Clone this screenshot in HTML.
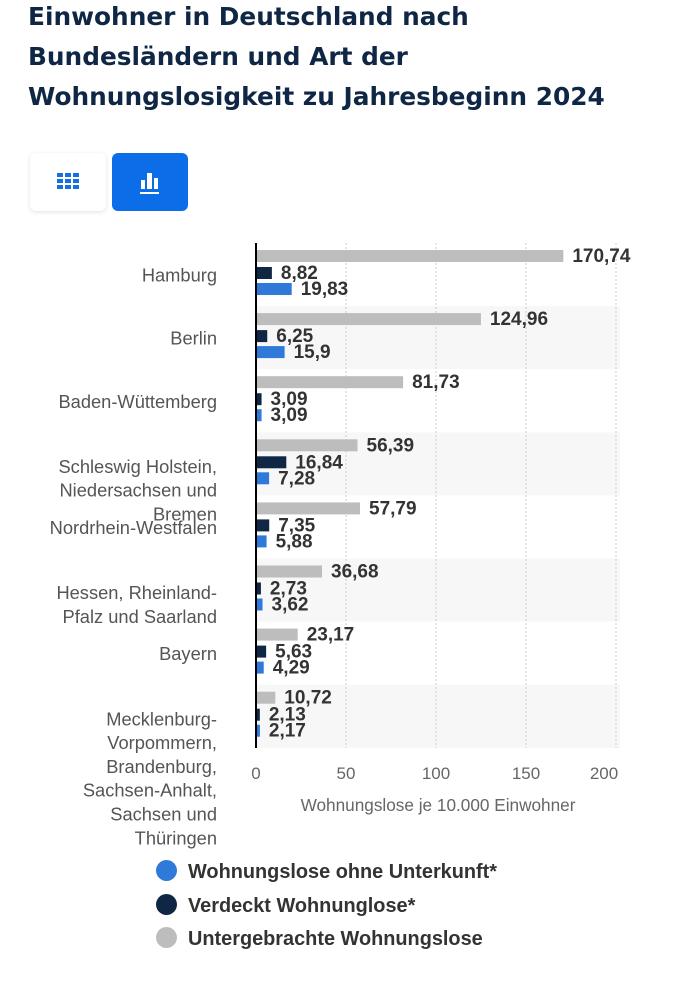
<!DOCTYPE html>
<html><head><meta charset="utf-8"><style>
body{margin:0;width:679px;height:1000px;background:#fff;font-family:"Liberation Sans",sans-serif;overflow:hidden;position:relative}
h1{position:absolute;left:28px;top:-3px;margin:0;font-family:"DejaVu Sans",sans-serif;font-size:24.8px;line-height:40px;color:#0f2744;font-weight:bold;white-space:nowrap}
.btn{position:absolute;top:153px;width:76px;height:58px;border-radius:6px}
.legend{position:absolute;left:156px;font-size:19.9px;font-weight:bold;color:#333}
.legend span{display:inline-block;width:21px;height:21px;border-radius:50%;vertical-align:middle;margin-right:11px;position:relative;top:-2px}
</style></head><body>
<h1>Einwohner in Deutschland nach<br>Bundesländern und Art der<br>Wohnungslosigkeit zu Jahresbeginn 2024</h1>
<div class="btn" style="left:30px;background:#fff;box-shadow:0 1px 4px rgba(0,0,0,.12)">
<svg width="76" height="58"><g fill="#1a6fe0"><rect x="27" y="20" width="6" height="4"/><rect x="35" y="20" width="6" height="4"/><rect x="43" y="20" width="6" height="4"/><rect x="27" y="26" width="6" height="4"/><rect x="35" y="26" width="6" height="4"/><rect x="43" y="26" width="6" height="4"/><rect x="27" y="32" width="6" height="4"/><rect x="35" y="32" width="6" height="4"/><rect x="43" y="32" width="6" height="4"/></g></svg></div>
<div class="btn" style="left:112px;background:#0b6ee8">
<svg width="76" height="58"><g fill="#fff"><rect x="29" y="27" width="4" height="9"/><rect x="35" y="20" width="5" height="16"/><rect x="42" y="25" width="4" height="11"/><rect x="28" y="39" width="19" height="2"/></g></svg></div>
<svg id="chart" width="679" height="860" style="position:absolute;left:0;top:0" font-family="Liberation Sans, sans-serif"></svg>
<div class="legend" style="top:861px"><span style="background:#2f7ad8"></span>Wohnungslose ohne Unterkunft*</div>
<div class="legend" style="top:895px"><span style="background:#0f2744"></span>Verdeckt Wohnunglose*</div>
<div class="legend" style="top:928px"><span style="background:#bdbdbd"></span>Untergebrachte Wohnungslose</div>
<script>
const categories=[["Hamburg"],["Berlin"],["Baden-Wüttemberg"],["Schleswig Holstein,","Niedersachsen und","Bremen"],["Nordrhein-Westfalen"],["Hessen, Rheinland-","Pfalz und Saarland"],["Bayern"],["Mecklenburg-","Vorpommern,","Brandenburg,","Sachsen-Anhalt,","Sachsen und","Thüringen"]];
const untergebracht=[170.74,124.96,81.73,56.39,57.79,36.68,23.17,10.72];
const verdeckt=[8.82,6.25,3.09,16.84,7.35,2.73,5.63,2.13];
const ohneUnterkunft=[19.83,15.9,3.09,7.28,5.88,3.62,4.29,2.17];
const ticks=[0,50,100,150,200];
const svg=document.getElementById('chart');const NS='http://www.w3.org/2000/svg';
const x0=256,k=1.8,top0=243,rowH=63.1;
const X=v=>x0+v*k;
function mk(t,a,txt){const e=document.createElementNS(NS,t);for(const n in a)e.setAttribute(n,a[n]);if(txt!==undefined)e.textContent=txt;svg.appendChild(e);return e;}
categories.forEach((c,i)=>{if(i%2==1){const r=mk('rect',{x:x0,y:top0+i*rowH,width:364,height:rowH,fill:'#f7f7f7'});

}});
ticks.forEach(t=>{if(t>0){const l=mk('line',{x1:X(t),x2:X(t),y1:top0,y2:748,stroke:'#ccc','stroke-dasharray':'2,2'});

}
const tx=mk('text',{x:X(t)+(t==200?-12:0),y:779,'text-anchor':'middle','font-size':17,fill:'#666'},String(t));

});
const ax=mk('line',{x1:x0,x2:x0,y1:top0,y2:748,stroke:'#000','stroke-width':2});


const series=[[untergebracht,'#bdbdbd',7],[verdeckt,'#0f2744',24],[ohneUnterkunft,'#2f7ad8',40]];
categories.forEach((c,i)=>{const ry=top0+i*rowH;
const lines=c.length;const cy=ry+rowH/2+7+(lines>1?2:0);
const t=mk('text',{x:217,'text-anchor':'end','font-size':18.3,fill:'#555'});


c.forEach((s,j)=>{const ts=document.createElementNS(NS,'tspan');ts.setAttribute('x',217);ts.setAttribute('y',cy+j*23.8);ts.textContent=s;t.appendChild(ts);});
series.forEach(([arr,col,off])=>{const v=arr[i];
const b=mk('rect',{x:x0+1,y:ry+off,width:Math.max(v*k-1,1),height:12,fill:col});


const l=mk('text',{x:X(v)+9,y:ry+off+12,'font-size':19,'font-weight':'bold',fill:'#333'},String(v).replace('.',','));

});});
const at=mk('text',{x:438,y:811,'text-anchor':'middle','font-size':17.2,fill:'#666'},'Wohnungslose je 10.000 Einwohner');


</script>
</body></html>
